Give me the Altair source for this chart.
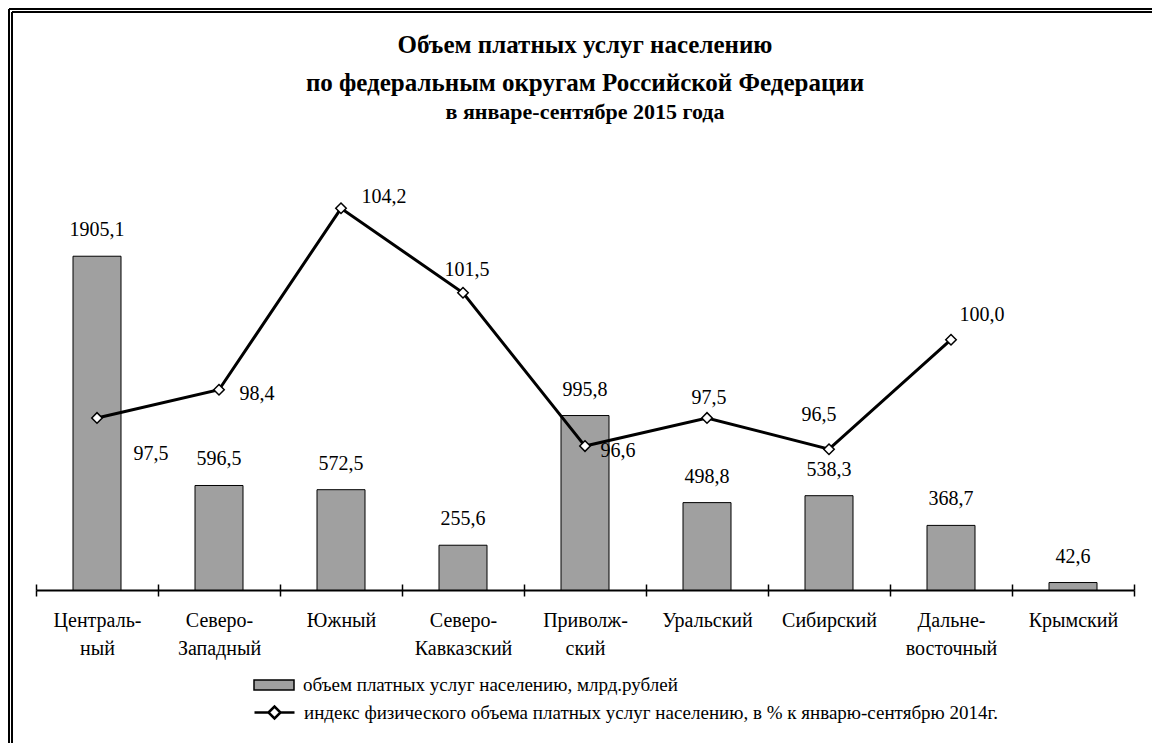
import altair as alt
import pandas as pd

# ---------------- data ----------------
regions = [
    "Централь-\nный", "Северо-\nЗападный", "Южный", "Северо-\nКавказский",
    "Приволж-\nский", "Уральский", "Сибирский", "Дальне-\nвосточный", "Крымский",
]
volume = [1905.1, 596.5, 572.5, 255.6, 995.8, 498.8, 538.3, 368.7, 42.6]
index_regions = regions[:8]
index_values = [97.5, 98.4, 104.2, 101.5, 96.6, 97.5, 96.5, 100.0]

title_lines = ["Объем платных услуг населению",
               "по федеральным округам Российской Федерации"]
subtitle = "в январе-сентябре 2015 года"
bar_series = "объем платных услуг населению, млрд.рублей"
line_series = "индекс физического объема платных услуг населению, в % к январю-сентябрю 2014г."

bars_df = pd.DataFrame({"region": regions, "value": volume, "series": bar_series})
line_df = pd.DataFrame({"region": index_regions, "value": index_values, "series": line_series})

# ---------------- style ----------------
FONT = "Liberation Serif"
W, H = 1098, 438
BAR_DOMAIN = [0, 2500]
IDX_DOMAIN = [92, 106]

# label offsets (dx, dy) for index labels, by position in index_regions
LABEL_OFFSETS = [(54, 36), (38, 4), (43, -11), (4, -23), (33, 5), (2, -20), (-10, -34), (31, -25)]

xscale = alt.Scale(domain=regions, paddingInner=0, paddingOuter=0)
xenc = alt.X("region:N", sort=regions, scale=xscale,
             axis=alt.Axis(title=None, orient="bottom", labelAngle=0,
                           labelExpr="split(datum.label, '\\n')",
                           labelFont=FONT, labelFontSize=20, labelColor="black",
                           labelLineHeight=28, labelPadding=14, labelLimit=200,
                           domainColor="black", domainWidth=2, tickColor="black",
                           tickSize=6, tickWidth=1.5, tickBand="extent", grid=False))
# upper half of the crossing ticks
xtop = alt.X("region:N", sort=regions, scale=xscale,
             axis=alt.Axis(title=None, orient="top", offset=-H, labels=False, domain=False,
                           tickColor="black", tickSize=6, tickWidth=1.5, tickBand="extent",
                           grid=False))
xplain = alt.X("region:N", sort=regions, scale=xscale, axis=None)

ybar = alt.Y("value:Q", scale=alt.Scale(domain=BAR_DOMAIN, nice=False, zero=True), axis=None)
yidx = alt.Y("value:Q", scale=alt.Scale(domain=IDX_DOMAIN, nice=False, zero=False), axis=None)

bars = alt.Chart(bars_df).mark_bar(size=48, stroke="black", strokeWidth=1).encode(
    x=xenc, y=ybar,
    fill=alt.Fill("series:N", scale=alt.Scale(domain=[bar_series], range=["#a0a0a0"]),
                  legend=alt.Legend(title=None, orient="none", legendX=217, legendY=512,
                                    symbolType="M-1,-0.25H1V0.25H-1Z", symbolSize=1600,
                                    symbolStrokeColor="black", symbolStrokeWidth=1.5,
                                    labelFont=FONT, labelFontSize=19, labelColor="black",
                                    labelLimit=1000, labelOffset=8)),
)

bar_text = alt.Chart(bars_df).transform_calculate(
    label="replace(format(datum.value, '.1f'), '.', ',')"
).mark_text(font=FONT, fontSize=20, baseline="middle", dy=-26, color="black").encode(
    x=xtop, y=ybar, text="label:N",
)

line = alt.Chart(line_df).mark_line(strokeWidth=3).encode(
    x=xplain, y=yidx,
    stroke=alt.Stroke("series:N", scale=alt.Scale(domain=[line_series], range=["black"]),
                      legend=alt.Legend(title=None, orient="none", legendX=217, legendY=539,
                                        symbolType="M-1,0H-0.3M0.3,0H1M-0.3,0L0,-0.3L0.3,0L0,0.3Z",
                                        symbolSize=1600, symbolStrokeWidth=2.5,
                                        symbolFillColor="white",
                                        labelFont=FONT, labelFontSize=19, labelColor="black",
                                        labelLimit=1000, labelOffset=8)),
)

points = alt.Chart(line_df).mark_point(shape="diamond", filled=True, fill="white",
                                       stroke="black", strokeWidth=1.5, size=110, opacity=1).encode(
    x=xplain, y=yidx,
)

label_layers = []
for reg, (dx, dy) in zip(index_regions, LABEL_OFFSETS):
    label_layers.append(
        alt.Chart(line_df).transform_filter(alt.FieldEqualPredicate(field="region", equal=reg))
        .transform_calculate(label="replace(format(datum.value, '.1f'), '.', ',')")
        .mark_text(font=FONT, fontSize=20, baseline="middle", dx=dx, dy=dy, color="black")
        .encode(x=xplain, y=yidx, text="label:N")
    )

# double frame (decoration)
frame = []
for off in (-27, -24):
    frame.append(alt.Chart(bars_df).mark_rule(color="black", strokeWidth=1).encode(
        x=alt.value(off), x2=alt.value(W + 40), y=alt.value(off - 116)))
    frame.append(alt.Chart(bars_df).mark_rule(color="black", strokeWidth=1).encode(
        x=alt.value(off), y=alt.value(off - 116), y2=alt.value(H + 200)))

chart = alt.layer(
    *frame, bars, bar_text, line, points, *label_layers
).resolve_scale(y="independent").resolve_axis(x="independent").properties(
    width=W, height=H,
    title=alt.TitleParams(text=title_lines, subtitle=subtitle, anchor="middle",
                          font=FONT, fontSize=25, fontWeight="bold", color="black",
                          lineHeight=38, subtitleFont=FONT, subtitleFontSize=22,
                          subtitleFontWeight="bold", subtitleColor="black",
                          subtitlePadding=6, offset=-114),
    autosize=alt.AutoSizeParams(type="none"),
    padding={"left": 28, "top": 144, "right": 18, "bottom": 153},
).configure_view(stroke=None)

chart.save("out.html", embed_options={"renderer": "svg", "actions": False})
